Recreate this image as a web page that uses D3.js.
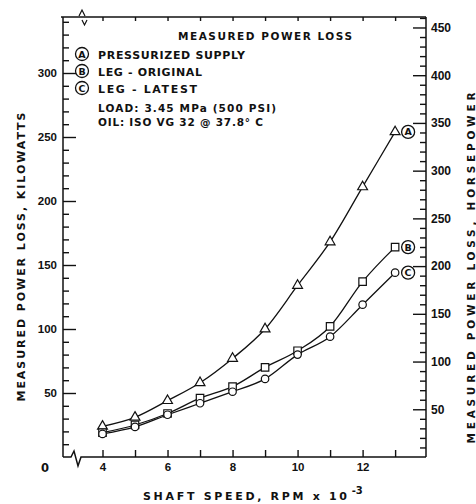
<!DOCTYPE html>
<html>
<head>
<meta charset="utf-8">
<script src="https://cdn.jsdelivr.net/npm/d3@7"></script>
<style>
  body { margin: 0; background: #fff; }
  svg { display: block; font-family: "DejaVu Sans", sans-serif; font-weight: bold; }
  .axis path.domain { display: none; }
  .axis line { stroke: #111; stroke-width: 1.4; }
  .axis text { fill: #111; }
</style>
</head>
<body>
<svg id="chart" width="476" height="504"></svg>
<script>
// --- данные ---
const speed = [4, 5, 6, 7, 8, 9, 10, 11, 12, 13];            // RPM x 10^-3
const lossA = [24, 31, 44, 58, 77, 100, 134, 168, 211, 254];  // pressurized supply, kW
const lossB = [19, 25, 34, 46, 55, 70, 83, 102, 137, 164];    // leg - original, kW
const lossC = [18, 23.5, 33, 42, 51, 61, 80, 94, 119, 144];   // leg - latest, kW
const seriesNames = ["A", "B", "C"];
const kwTicks = [50, 100, 150, 200, 250, 300];
const hpTicks = [50, 100, 150, 200, 250, 300, 350, 400, 450];
const xLabelTicks = [4, 6, 8, 10, 12];
const legendLines = ["PRESSURIZED SUPPLY", "LEG - ORIGINAL", "LEG - LATEST"];
const noteLines = ["LOAD: 3.45 MPa (500 PSI)", "OIL: ISO VG 32 @ 37.8° C"];
const KW_PER_HP = 0.7457;

const svg = d3.select("#chart");
const ink = "#111";

// --- шкалы ---
const pL = 63, pR = 426, pT = 17, pB = 457;
const x = d3.scaleLinear().domain([2.785, 13.95]).range([pL, pR]);
const y = d3.scaleLinear().domain([0, 343.75]).range([pB, pT]);
const yHp = d3.scaleLinear().domain([0, 343.75 / KW_PER_HP]).range([pB, pT]);

// --- рамка с разрывами ---
const frame = svg.append("g").attr("fill", "none").attr("stroke", ink).attr("stroke-width", 1.5);
frame.append("line").attr("x1", pL).attr("x2", pL).attr("y1", pT).attr("y2", pB);
frame.append("line").attr("x1", pR).attr("x2", pR).attr("y1", pT).attr("y2", pB);
frame.append("line").attr("x1", pL - 2).attr("x2", pR).attr("y1", pT).attr("y2", pT);
frame.append("path").attr("d", `M${pL},${pB} L71,${pB} L74,451 L78,466 L81,${pB} L${pR},${pB}`);
frame.append("path").attr("stroke-width", 1.2).attr("d", "M79,16 L82,10 L85,16 M82,20 L84.5,25 L87,20");

// --- оси ---
// левая ось, кВт: крупные и мелкие засечки внутрь
svg.append("g").attr("class", "axis").attr("transform", `translate(${pL},0)`)
  .call(d3.axisLeft(y).tickValues(d3.range(10, 341, 10).filter(v => v % 50)).tickSize(-6).tickFormat(""));
svg.append("g").attr("class", "axis").attr("transform", `translate(${pL},0)`)
  .call(d3.axisLeft(y).tickValues(kwTicks).tickSize(-13).tickPadding(6))
  .selectAll("text").style("font-size", "11.5px");

// правая ось, л.с.
svg.append("g").attr("class", "axis").attr("transform", `translate(${pR},0)`)
  .call(d3.axisRight(yHp).tickValues(d3.range(10, 461, 10).filter(v => v % 50)).tickSize(-6).tickFormat(""));
svg.append("g").attr("class", "axis").attr("transform", `translate(${pR},0)`)
  .call(d3.axisRight(yHp).tickValues(hpTicks).tickSize(-13).tickPadding(5))
  .selectAll("text").style("font-size", "12px");

// нижняя ось
svg.append("g").attr("class", "axis").attr("transform", `translate(0,${pB})`)
  .call(d3.axisBottom(x).tickValues(speed).tickSize(-7).tickPadding(6)
    .tickFormat(d => xLabelTicks.includes(d) ? d : ""))
  .selectAll("text").style("font-size", "11.5px");

// верхняя ось (только засечки)
svg.append("g").attr("class", "axis").attr("transform", `translate(0,${pT})`)
  .call(d3.axisTop(x).tickValues(speed).tickSize(-4).tickFormat(""));

svg.append("text").attr("x", 45).attr("y", 472).attr("text-anchor", "middle")
  .style("font-size", "11.5px").attr("fill", ink).text("0");

// --- подписи осей ---
svg.append("text")
  .attr("transform", "translate(25,257) rotate(-90)")
  .attr("text-anchor", "middle").attr("fill", ink).style("font-size", "11px")
  .attr("textLength", 289).attr("lengthAdjust", "spacing")
  .text("MEASURED  POWER  LOSS,  KILOWATTS");

svg.append("text")
  .attr("transform", "translate(475,268) rotate(-90)")
  .attr("text-anchor", "middle").attr("fill", ink).style("font-size", "10.5px")
  .attr("textLength", 351).attr("lengthAdjust", "spacing")
  .text("MEASURED  POWER  LOSS,  HORSEPOWER");

const xt = svg.append("text").attr("x", 143).attr("y", 500).attr("fill", ink).style("font-size", "11px");
xt.append("tspan").attr("textLength", 204).attr("lengthAdjust", "spacing").text("SHAFT  SPEED,  RPM x 10");
xt.append("tspan").attr("dy", -6).attr("dx", 2).style("font-size", "10px").text("-3");

// --- легенда ---
svg.append("text").attr("x", 178).attr("y", 40).attr("fill", ink).style("font-size", "10.5px")
  .attr("textLength", 174).attr("lengthAdjust", "spacing").text("MEASURED  POWER  LOSS");

const legSpans = [147, 104, 99];
legendLines.forEach((t, i) => {
  const cy = 54 + i * 17;
  svg.append("circle").attr("cx", 82).attr("cy", cy).attr("r", 6.5)
    .attr("fill", "none").attr("stroke", ink).attr("stroke-width", 1.3);
  svg.append("text").attr("x", 82).attr("y", cy + 3.5).attr("text-anchor", "middle")
    .attr("fill", ink).style("font-size", "9.5px").text(seriesNames[i]);
  svg.append("text").attr("x", 98).attr("y", cy + 5).attr("fill", ink).style("font-size", "11px")
    .attr("textLength", legSpans[i]).attr("lengthAdjust", "spacing").text(t);
});
const noteSpans = [178, 165];
noteLines.forEach((t, i) => {
  svg.append("text").attr("x", 98).attr("y", 112 + i * 14).attr("fill", ink).style("font-size", "10.5px")
    .attr("textLength", noteSpans[i]).attr("lengthAdjust", "spacing").text(t);
});

// --- линии и маркеры ---
const all = [lossA, lossB, lossC];
const line = d3.line().x(d => x(d[0])).y(d => y(d[1])).curve(d3.curveMonotoneX);
all.forEach(vals => {
  svg.append("path").datum(speed.map((s, i) => [s, vals[i]]))
    .attr("fill", "none").attr("stroke", ink).attr("stroke-width", 1.3).attr("d", line);
});

const symbols = [d3.symbolTriangle, d3.symbolSquare, d3.symbolCircle];
const sizes = [42, 56, 44];
all.forEach((vals, k) => {
  svg.append("g").selectAll("path").data(speed.map((s, i) => [s, vals[i]])).join("path")
    .attr("transform", d => `translate(${x(d[0])},${y(d[1])})`)
    .attr("d", d3.symbol(symbols[k], sizes[k]))
    .attr("fill", "#fff").attr("stroke", ink).attr("stroke-width", 1.2);
});

// подписи серий у последней точки
all.forEach((vals, k) => {
  const cx = x(speed[speed.length - 1]) + 13, cy = y(vals[vals.length - 1]);
  svg.append("circle").attr("cx", cx).attr("cy", cy).attr("r", 6.5)
    .attr("fill", "#fff").attr("stroke", ink).attr("stroke-width", 1.3);
  svg.append("text").attr("x", cx).attr("y", cy + 3.5).attr("text-anchor", "middle")
    .attr("fill", ink).style("font-size", "9.5px").text(seriesNames[k]);
});
</script>
</body>
</html>
